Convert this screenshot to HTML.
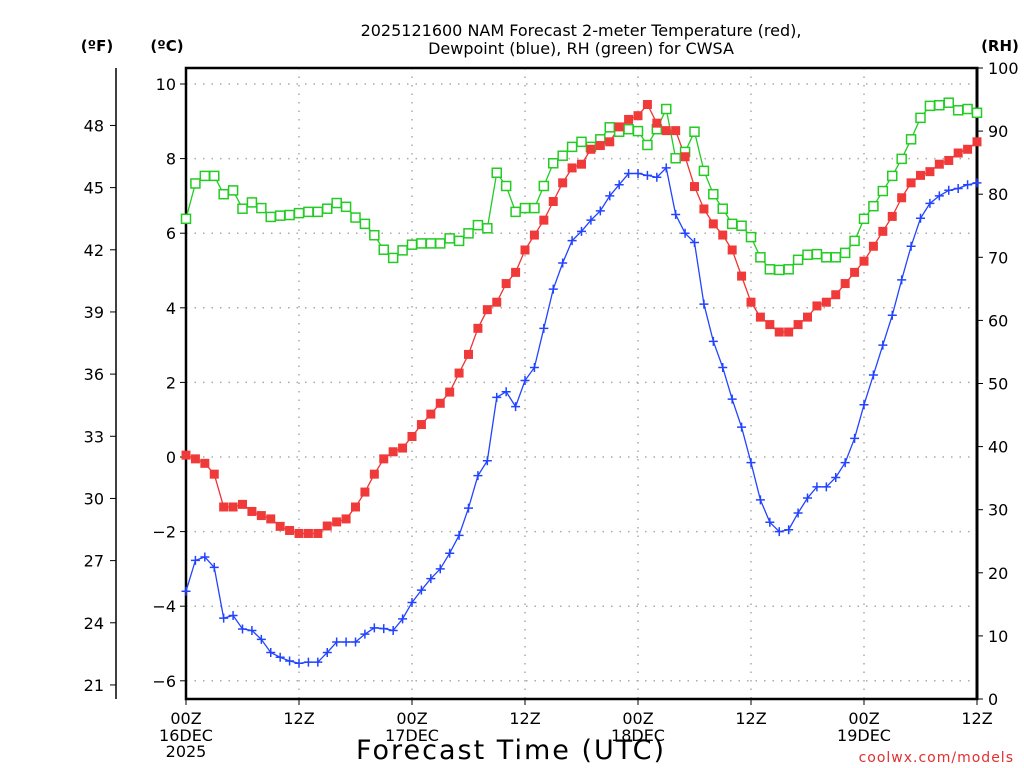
<!DOCTYPE html>
<html><head><meta charset="utf-8"><style>
body{margin:0;background:#fff}
svg{display:block;font-family:"DejaVu Sans","Liberation Sans",sans-serif}
</style></head><body>
<svg id="chart" width="1024" height="768" viewBox="0 0 1024 768" xmlns="http://www.w3.org/2000/svg">
<g id="grid"></g>
<g id="axes"></g>
<g id="series"></g>
<text x="581" y="36" text-anchor="middle" font-size="16">2025121600 NAM Forecast 2-meter Temperature (red),</text>
<text x="581" y="54" text-anchor="middle" font-size="16">Dewpoint (blue), RH (green) for CWSA</text>
<text x="97" y="51" text-anchor="middle" font-size="15" font-weight="bold">(ºF)</text>
<text x="167" y="51" text-anchor="middle" font-size="15" font-weight="bold">(ºC)</text>
<text x="1000" y="51" text-anchor="middle" font-size="15" font-weight="bold">(RH)</text>
<text x="511" y="759" text-anchor="middle" font-size="27" letter-spacing="2">Forecast Time (UTC)</text>
<text x="1014" y="762" text-anchor="end" font-size="14" fill="#e03030" letter-spacing="1">coolwx.com/models</text>
</svg>
<script>
const hours = Array.from({length:85},(_, i)=>i);
const tempC = [0.05,-0.05,-0.17,-0.46,-1.34,-1.34,-1.27,-1.46,-1.57,-1.66,-1.86,-1.97,-2.05,-2.05,-2.05,-1.85,-1.74,-1.66,-1.34,-0.94,-0.46,-0.05,0.14,0.24,0.55,0.87,1.15,1.44,1.74,
2.25,2.75,3.45,3.95,4.15,4.65,4.95,5.55,5.95,6.35,6.85,7.35,7.75,7.85,8.25,8.35,8.45,8.85,9.05,9.15,9.45,8.95,8.75,8.75,8.05,7.25,
6.65,6.25,5.95,5.55,4.85,4.15,3.75,3.55,3.35,3.35,3.55,3.75,4.05,4.15,4.35,4.65,4.95,5.25,5.65,6.05,6.45,6.95,7.35,7.55,7.65,7.85,7.95,8.15,8.25,8.45];
const dewC = [-3.6,-2.77,-2.68,-2.96,-4.32,-4.25,-4.61,-4.65,-4.89,-5.24,-5.37,-5.47,-5.53,-5.5,-5.5,-5.24,-4.96,-4.96,-4.96,-4.75,-4.58,-4.6,-4.65,-4.34,-3.9,-3.57,-3.26,-3.0,-2.58,
-2.1,-1.37,-0.5,-0.1,1.6,1.75,1.35,2.05,2.4,3.45,4.5,5.2,5.8,6.05,6.35,6.6,7.0,7.3,7.6,7.6,7.55,7.5,7.75,6.5,6.0,5.75,
4.1,3.1,2.4,1.55,0.8,-0.15,-1.15,-1.75,-2.0,-1.95,-1.5,-1.1,-0.8,-0.8,-0.55,-0.15,0.5,1.4,2.2,3.0,3.8,4.75,5.65,6.4,6.8,7.0,7.15,7.2,7.3,7.35];
const rh = [76.1,81.7,82.9,82.9,80.0,80.6,77.7,78.7,77.8,76.4,76.6,76.7,77.0,77.2,77.2,77.7,78.6,78.0,76.3,75.3,73.5,71.2,69.9,71.1,72.0,72.2,72.2,72.2,73.0,
72.6,73.8,75.1,74.6,83.4,81.3,77.2,77.8,77.8,81.3,84.9,86.1,87.5,88.3,87.5,88.7,90.6,89.9,90.3,90.0,87.8,90.3,93.5,85.7,86.7,89.9,
83.7,80.0,77.7,75.3,75.0,73.2,70.0,68.1,68.0,68.1,69.6,70.4,70.5,70.0,70.0,70.7,72.6,76.1,78.1,80.5,82.9,85.6,88.7,92.1,94.0,94.1,94.5,93.3,93.5,92.9];
const cTicks = [10,8,6,4,2,0,-2,-4,-6];
const fTicks = [48,45,42,39,36,33,30,27,24,21];
const rhTicks = [100,90,80,70,60,50,40,30,20,10,0];
const xTickHours = [0,12,24,36,48,60,72,84];
const xTickLabels = ["00Z","12Z","00Z","12Z","00Z","12Z","00Z","12Z"];
const xDateLabels = {0:["16DEC","2025"],24:["17DEC"],48:["18DEC"],72:["19DEC"]};

const X0=186,X1=977,Y0=68,Y1=699;
const xS=h=>X0+(X1-X0)*h/84;
const cS=c=>457-37.3*c;
const fS=f=>cS((f-32)/1.8);
const rS=r=>Y1-(Y1-Y0)*r/100;
const NS="http://www.w3.org/2000/svg";
function mk(parent,tag,attrs,text){const e=document.createElementNS(NS,tag);for(const k in attrs)e.setAttribute(k,attrs[k]);if(text!==undefined)e.textContent=text;parent.appendChild(e);return e;}
const grid=document.getElementById('grid'),axes=document.getElementById('axes'),ser=document.getElementById('series');

cTicks.forEach(c=>{const y=cS(c);
 const g=mk(grid,'line',{x1:X0,x2:X1,y1:y,y2:y,stroke:'#aaa','stroke-width':1.5,'stroke-dasharray':'1.5 7'});
 
 
 mk(axes,'line',{x1:X0-6,x2:X0,y1:y,y2:y,stroke:'#000','stroke-width':1});
 const t=mk(axes,'text',{x:X0-10,y:y+6,'text-anchor':'end','font-size':16},c<0?'\u2212'+(-c):String(c));
 
 
});
xTickHours.forEach((h,i)=>{const x=xS(h);
 if(h>0&&h<84){const g=mk(grid,'line',{x1:x,x2:x,y1:Y0,y2:Y1,stroke:'#aaa','stroke-width':1.5,'stroke-dasharray':'1.5 7'});
 
 }
 mk(axes,'line',{x1:x,x2:x,y1:Y1,y2:Y1+6,stroke:'#000'});
 const t=mk(axes,'text',{x:x,y:724,'text-anchor':'middle','font-size':16},xTickLabels[i]);
 
 
 (xDateLabels[h]||[]).forEach((s,j)=>{const d=mk(axes,'text',{x:x,y:741+j*16,'text-anchor':'middle','font-size':16},s);
 
 });
});
mk(axes,'line',{x1:116,x2:116,y1:Y0,y2:Y1,stroke:'#000','stroke-width':1.5});
fTicks.forEach(f=>{const y=fS(f);
 mk(axes,'line',{x1:110,x2:116,y1:y,y2:y,stroke:'#000'});
 const t=mk(axes,'text',{x:104,y:y+6,'text-anchor':'end','font-size':16},String(f));
 
 
});
rhTicks.forEach(r=>{const y=rS(r);
 mk(axes,'line',{x1:X1,x2:X1+6,y1:y,y2:y,stroke:'#000'});
 const t=mk(axes,'text',{x:988,y:y+6,'font-size':16},String(r));
 
 
});
mk(axes,'rect',{x:X0,y:Y0,width:X1-X0,height:Y1-Y0,fill:'none',stroke:'#000','stroke-width':2.5});
mk(axes,'line',{x1:X1,x2:X1,y1:Y0-1,y2:Y1+1,stroke:'#000','stroke-width':3});

function line(vals,sc,col,name){const p=mk(ser,'polyline',{points:vals.map((v,i)=>xS(hours[i])+','+sc(v)).join(' '),fill:'none',stroke:col,'stroke-width':1.3});
 
 }
line(rh,rS,'#22cc22','rh-line');
line(tempC,cS,'#ee3333','temperature-line');
line(dewC,cS,'#2244ff','dewpoint-line');
rh.forEach((v,i)=>{const m=mk(ser,'rect',{x:xS(hours[i])-4.5,y:rS(v)-4.5,width:9,height:9,fill:'#fff',stroke:'#22cc22','stroke-width':1.5});
 
 });
tempC.forEach((v,i)=>{const m=mk(ser,'rect',{x:xS(hours[i])-4.5,y:cS(v)-4.5,width:9,height:9,fill:'#f03a3a'});
 
 });
dewC.forEach((v,i)=>{const x=xS(hours[i]),y=cS(v);
 const m=mk(ser,'path',{d:`M${x-4.5},${y}H${x+4.5}M${x},${y-4.5}V${y+4.5}`,stroke:'#2244ff','stroke-width':1.5});
 
 });
</script>
</body></html>
